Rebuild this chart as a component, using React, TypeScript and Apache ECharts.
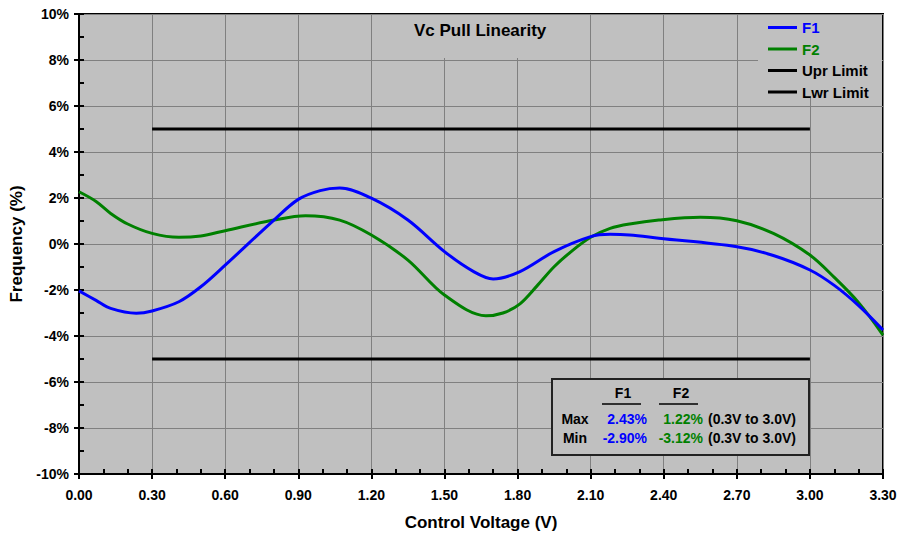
import React, { useEffect, useRef } from "react";
import * as echarts from "echarts";

const f1Volts = [0, 0.07, 0.13, 0.235, 0.3, 0.41, 0.5, 0.6, 0.8, 0.9, 0.99, 1.07, 1.2, 1.35, 1.5, 1.62, 1.7, 1.81, 1.95, 2.1, 2.18, 2.26, 2.38, 2.7, 2.85, 3.0, 3.1, 3.2, 3.3];
const f1Values = [-2.04, -2.45, -2.8, -3.01, -2.91, -2.51, -1.86, -0.92, 1.04, 1.94, 2.32, 2.43, 1.99, 1.04, -0.33, -1.2, -1.52, -1.2, -0.33, 0.32, 0.42, 0.39, 0.25, -0.12, -0.5, -1.13, -1.8, -2.68, -3.74];
const f2Volts = [0, 0.07, 0.13, 0.2, 0.3, 0.41, 0.5, 0.6, 0.8, 0.93, 1.07, 1.2, 1.35, 1.5, 1.67, 1.74, 1.81, 1.88, 1.95, 2.02, 2.1, 2.18, 2.26, 2.38, 2.55, 2.7, 2.85, 3.0, 3.1, 3.2, 3.3];
const f2Values = [2.27, 1.85, 1.33, 0.87, 0.46, 0.29, 0.35, 0.58, 1.04, 1.23, 1.04, 0.39, -0.7, -2.22, -3.12, -3.0, -2.6, -1.82, -0.99, -0.33, 0.29, 0.68, 0.87, 1.04, 1.16, 1.01, 0.46, -0.48, -1.45, -2.55, -3.96];
const limitVolts = [0.3, 3.0];
const uprLimit = [5, 5];
const lwrLimit = [-5, -5];
const seriesNames = ["F1", "F2", "Upr Limit", "Lwr Limit"];
const seriesColors = ["#0000ff", "#008000", "#000000", "#000000"];
const tableHeads = ["F1", "F2"];
const tableRowNames = ["Max", "Min"];
const maxVals = ["2.43%", "1.22%"];
const minVals = ["-2.90%", "-3.12%"];
const rangeText = "(0.3V to 3.0V)";

const FONT = 'Arial, "Liberation Sans", sans-serif';

export default function App() {
  const ref = useRef<HTMLDivElement>(null);
  useEffect(() => {
    if (!ref.current) return;
    const chart = echarts.init(ref.current, undefined, { renderer: "svg" });
    const pair = (xs: number[], ys: number[]) => xs.map((x, i) => [x, ys[i]]);
    const Z = 100;
    const txt = (text: string, x: number, y: number, color: string, align: string) => ({
      type: "text",
      z: Z + 2,
      x,
      y,
      style: { text, fill: color, font: `bold 14px ${FONT}`, textAlign: align, textVerticalAlign: "middle" },
    });
    const valRows = [maxVals, minVals];
    const tableTexts: any[] = [];
    tableHeads.forEach((h, i) => tableTexts.push(txt(h, i === 0 ? 623 : 681, 393, "#000", "center")));
    tableRowNames.forEach((r, j) => {
      const y = j === 0 ? 419 : 438;
      tableTexts.push(txt(r, 575, y, "#000", "center"));
      tableTexts.push(txt(valRows[j][0], 647, y, seriesColors[0], "right"));
      tableTexts.push(txt(valRows[j][1], 703, y, seriesColors[1], "right"));
      tableTexts.push(txt(rangeText, 708, y, "#000", "left"));
    });

    const minorAxisCommon = {
      type: "value",
      axisLine: { show: false, onZero: false },
      axisTick: { show: true, inside: true, length: 5, lineStyle: { color: "#000", width: 2 } },
      axisLabel: { show: false },
      splitLine: { show: false },
    };

    chart.setOption({
      animation: false,
      backgroundColor: "#ffffff",
      title: {
        text: "Vc Pull Linearity",
        left: 414,
        top: 22,
        padding: 0,
        z: Z + 5,
        textStyle: { fontFamily: FONT, fontWeight: "bold", fontSize: 17, color: "#000" },
      },
      grid: {
        left: 79,
        top: 14,
        right: 18,
        bottom: 64,
        show: true,
        backgroundColor: "#c0c0c0",
        borderColor: "#000",
        borderWidth: 2,
      },
      legend: {
        orient: "vertical",
        left: 768,
        top: 20,
        itemWidth: 29,
        itemHeight: 3,
        itemGap: 6.5,
        icon: "rect",
        padding: 0,
        z: Z + 5,
        data: seriesNames.map((n, i) => ({
          name: n,
          textStyle: { color: seriesColors[i], fontFamily: FONT, fontWeight: "bold", fontSize: 15 },
        })),
      },
      xAxis: [
        {
          type: "value",
          min: 0,
          max: 3.3,
          interval: 0.3,
          name: "Control Voltage (V)",
          nameLocation: "middle",
          nameGap: 40,
          nameTextStyle: { fontFamily: FONT, fontWeight: "bold", fontSize: 17, color: "#000" },
          axisLine: { show: true, onZero: false, lineStyle: { color: "#000", width: 2 } },
          axisTick: { show: true, inside: false, length: 5, lineStyle: { color: "#000", width: 2 } },
          axisLabel: {
            margin: 14,
            formatter: (v: number) => v.toFixed(2),
            fontFamily: FONT,
            fontWeight: "bold",
            fontSize: 14,
            color: "#000",
          },
          splitLine: { show: true, lineStyle: { color: "#808080", width: 1 } },
        },
        { ...minorAxisCommon, min: 0, max: 3.3, interval: 0.1, position: "bottom" },
      ],
      yAxis: [
        {
          type: "value",
          min: -10,
          max: 10,
          interval: 2,
          name: "Frequency (%)",
          nameLocation: "middle",
          nameGap: 54,
          nameTextStyle: { fontFamily: FONT, fontWeight: "bold", fontSize: 17, color: "#000" },
          axisLine: { show: true, onZero: false, lineStyle: { color: "#000", width: 2 } },
          axisTick: { show: true, inside: false, length: 5, lineStyle: { color: "#000", width: 2 } },
          axisLabel: {
            margin: 10,
            formatter: (v: number) => `${v}%`,
            fontFamily: FONT,
            fontWeight: "bold",
            fontSize: 14,
            color: "#000",
          },
          splitLine: { show: true, lineStyle: { color: "#808080", width: 1 } },
        },
        { ...minorAxisCommon, min: -10, max: 10, interval: 1, position: "left" },
      ],
      series: [
        {
          name: seriesNames[0],
          type: "line",
          data: pair(f1Volts, f1Values),
          smooth: 0.33,
          showSymbol: false,
          lineStyle: { color: seriesColors[0], width: 3 },
          itemStyle: { color: seriesColors[0] },
          z: 5,
        },
        {
          name: seriesNames[1],
          type: "line",
          data: pair(f2Volts, f2Values),
          smooth: 0.33,
          showSymbol: false,
          lineStyle: { color: seriesColors[1], width: 3 },
          itemStyle: { color: seriesColors[1] },
          z: 4,
        },
        {
          name: seriesNames[2],
          type: "line",
          data: pair(limitVolts, uprLimit),
          showSymbol: false,
          lineStyle: { color: seriesColors[2], width: 3 },
          itemStyle: { color: seriesColors[2] },
        },
        {
          name: seriesNames[3],
          type: "line",
          data: pair(limitVolts, lwrLimit),
          showSymbol: false,
          lineStyle: { color: seriesColors[3], width: 3 },
          itemStyle: { color: seriesColors[3] },
        },
      ],
      graphic: {
        z: Z,
        elements: [
          {
            type: "rect",
            z: Z,
            shape: { x: 373, y: 15, width: 217, height: 43 },
            style: { fill: "#c0c0c0" },
          },
          {
            type: "rect",
            z: Z,
            shape: { x: 758, y: 15, width: 124, height: 81 },
            style: { fill: "#c0c0c0" },
          },
          {
            type: "rect",
            z: Z + 1,
            shape: { x: 552, y: 379, width: 257, height: 76 },
            style: { fill: "#c0c0c0", stroke: "#222", lineWidth: 2 },
          },
          { type: "line", z: Z + 2, shape: { x1: 602, y1: 404, x2: 641, y2: 404 }, style: { stroke: "#000", lineWidth: 1.5 } },
          { type: "line", z: Z + 2, shape: { x1: 659, y1: 404, x2: 698, y2: 404 }, style: { stroke: "#000", lineWidth: 1.5 } },
          ...tableTexts,
        ],
      },
    });
    return () => chart.dispose();
  }, []);
  return <div ref={ref} style={{ position: "fixed", left: 0, top: 0, width: 901, height: 538 }} />;
}
